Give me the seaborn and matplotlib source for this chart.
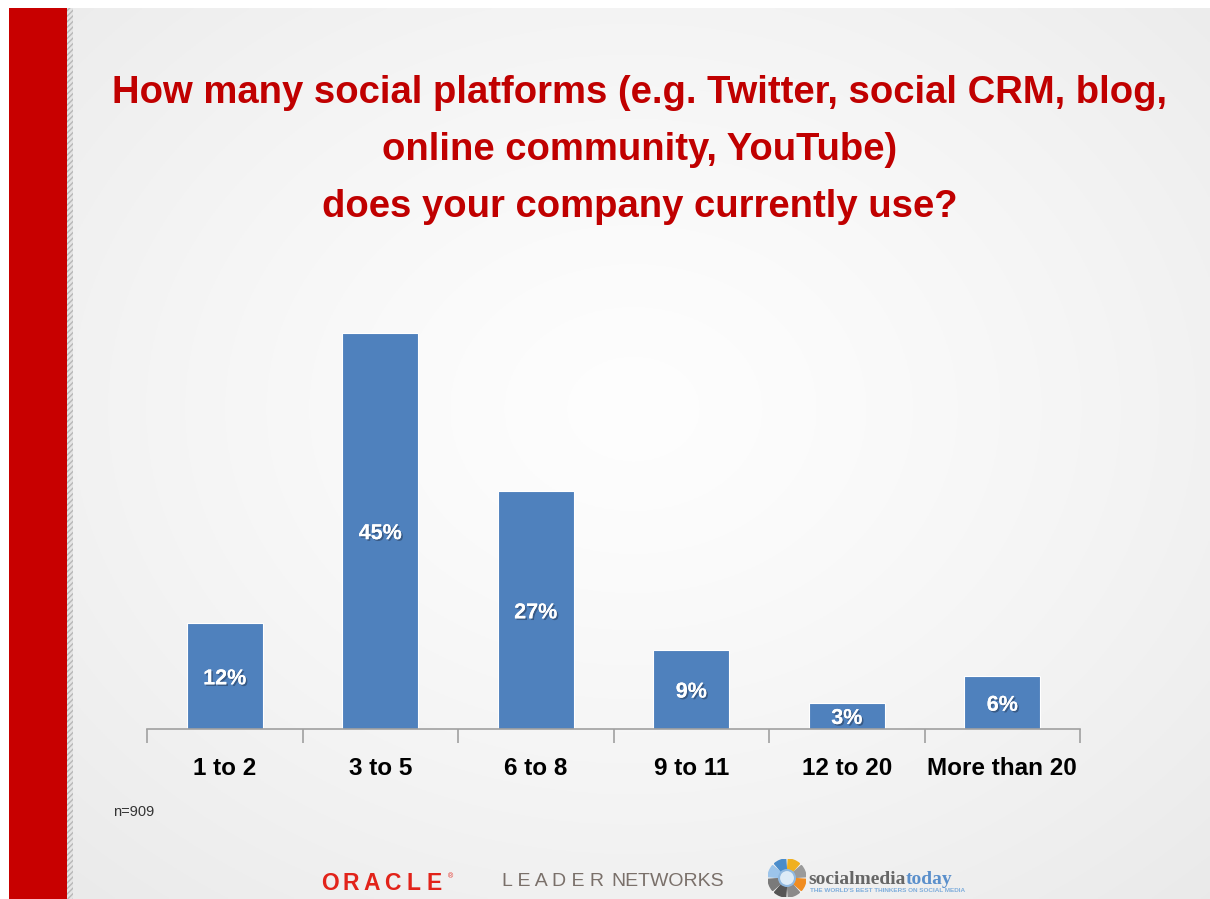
import numpy as np
import pandas as pd
import matplotlib
matplotlib.use("Agg")
import matplotlib.pyplot as plt
import matplotlib.patheffects as pe
from matplotlib.patches import Rectangle, Wedge, Circle
import seaborn as sns

# Survey data
categories = ["1 to 2", "3 to 5", "6 to 8", "9 to 11", "12 to 20", "More than 20"]
shares = [12, 45, 27, 9, 3, 6]
sample_note = "n=909"
title = ("How many social platforms (e.g. Twitter, social CRM, blog,\n"
         "online community, YouTube)\n"
         "does your company currently use?")

sns.set_theme(style="white")
plt.rcParams["font.family"] = ["Liberation Sans", "DejaVu Sans"]

W, H = 1210, 899
fig = plt.figure(figsize=(W / 100, H / 100), dpi=100, facecolor="white")

def fx(px):
    return px / W

def fy(py):
    return 1 - py / H

# Slide background: soft radial gradient, brighter in the middle
bg = fig.add_axes([fx(9), 0, 1 - fx(9), fy(8)])
yy, xx = np.mgrid[0:1:400j, 0:1:500j]
r = np.sqrt(((xx - 0.52) / 0.75) ** 2 + ((yy - 0.45) / 0.8) ** 2)
shade = np.clip(1.0 - 0.085 * np.clip(r, 0, 1) ** 1.3, 0, 1)
bg.imshow(np.dstack([shade * 0.995, shade * 0.995, shade * 0.995]),
          extent=[0, 1, 0, 1], aspect="auto", origin="upper")
bg.set_xlim(0, 1)
bg.set_ylim(0, 1)
bg.axis("off")

# Red band on the left with a hatched seam
band = fig.add_axes([fx(9), 0, fx(67) - fx(9), fy(8)])
band.set_xlim(0, 1)
band.set_ylim(0, 1)
band.add_patch(Rectangle((0, 0), 1, 1, color="#C80000"))
band.axis("off")
seam = fig.add_axes([fx(67), 0, fx(6), fy(8)])
seam.set_xlim(0, 1)
seam.set_ylim(0, 1)
seam.add_patch(Rectangle((0, 0), 1, 1, facecolor="#E4E4E4", edgecolor="#B8B8B8",
                         hatch="//////", linewidth=0))
seam.axis("off")

# Title
fig.text(fx(640), fy(150), title, ha="center", va="center", color="#C00000",
         fontsize=27.5, fontweight="bold", linespacing=1.76)

# Bar chart
ax = fig.add_axes([fx(147), fy(729), fx(1080) - fx(147), fy(289) - fy(729)])
ax.patch.set_alpha(0)
df = pd.DataFrame({"category": categories, "share": shares})
sns.barplot(data=df, x="category", y="share", color="#4F81BD", saturation=1,
            width=0.49, ax=ax, edgecolor="#FFFFFF", linewidth=0.8)
ax.set_ylim(0, 50)
ax.set_xlim(-0.5, len(categories) - 0.5)
ax.set_xlabel("")
ax.set_ylabel("")
ax.set_yticks([])
for side in ["top", "right", "left"]:
    ax.spines[side].set_visible(False)
ax.spines["bottom"].set_color("#A0A0A0")
ax.spines["bottom"].set_linewidth(1.2)

ax.set_xticks(range(len(categories)))
ax.set_xticklabels(categories, fontsize=17.5, fontweight="bold", color="black")
ax.tick_params(axis="x", which="major", length=0, pad=20)
ax.set_xticks(np.arange(-0.5, len(categories), 1.0), minor=True)
ax.tick_params(axis="x", which="minor", length=10, width=1.2, color="#A0A0A0",
               direction="out", bottom=True)

for bar, val in zip(ax.patches, shares):
    cx = bar.get_x() + bar.get_width() / 2
    ax.text(cx, val / 2 - 0.3, f"{val}%", ha="center", va="center", color="white",
            fontsize=15.5, fontweight="bold",
            path_effects=[pe.withSimplePatchShadow(offset=(1.2, -1.2), shadow_rgbFace="#2A4060",
                                                   alpha=0.6), pe.Normal()])

# Sample size
fig.text(fx(113), fy(812), sample_note, ha="left", va="center", fontsize=10.5,
         color="#333333")

# Sponsor marks along the bottom
oracle = "ORACLE"
step = 124 / len(oracle)
for i, ch in enumerate(oracle):
    fig.text(fx(320 + step * (i + 0.5)), fy(883), ch, ha="center", va="center",
             color="#E2231A", fontsize=16.5, fontweight="bold")
fig.text(fx(450), fy(877), "®", ha="center", va="center", color="#E2231A", fontsize=5)
fig.text(fx(502), fy(882), "L E A D E R", ha="left", va="center", color="#7A706A",
         fontsize=14)
fig.text(fx(611), fy(882), "NETWORKS", ha="left", va="center", color="#7A706A",
         fontsize=14)

logo = fig.add_axes([fx(768), fy(897), fx(38), fy(859) - fy(897)])
logo.set_xlim(-1, 1)
logo.set_ylim(-1, 1)
logo.set_aspect("equal")
logo.axis("off")
wedge_colors = ["#F0B020", "#9A9A9A", "#F08C20", "#8A8A8A", "#555555", "#7A7A7A", "#9CC4EA", "#4A8CCB"]
for i, c in enumerate(wedge_colors):
    start = 90 - (i + 1) * 45 + 4
    logo.add_patch(Wedge((0, 0), 1.0, start, start + 37, width=0.55, color=c))
logo.add_patch(Circle((0, 0), 0.42, facecolor="#DDEBF7", edgecolor="#8FB8E0", linewidth=1.5))

serif = ["Liberation Serif", "DejaVu Serif"]
t1 = fig.text(fx(808), fy(879), "socialmedia", ha="left", va="center", color="#666666",
              fontsize=14, fontweight="bold", family=serif)
fig.canvas.draw()
ext = t1.get_window_extent()
fig.text(ext.x1 / W, fy(879), "today", ha="left", va="center", color="#5A8FCB",
         fontsize=14, fontweight="bold", family=serif)
fig.text(fx(810), fy(891), "THE WORLD'S BEST THINKERS ON SOCIAL MEDIA", ha="left", va="center",
         color="#7FAEDC", fontsize=4.6, fontweight="bold")

fig.savefig("out.png", dpi=100, facecolor="white")
